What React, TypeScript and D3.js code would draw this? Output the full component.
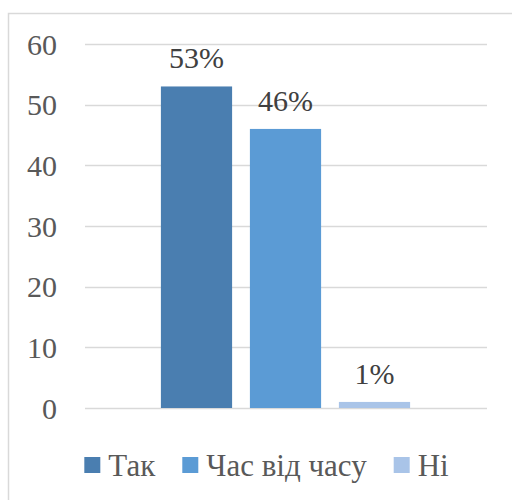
import React, { useMemo } from "react";
import * as d3 from "d3";

const seriesNames = ["Так", "Час від часу", "Ні"];
const seriesValues = [53, 46, 1];
const valueLabels = ["53%", "46%", "1%"];
const seriesColors = ["#4A7EB0", "#5B9BD5", "#A9C4E8"];
const yTicks = [0, 10, 20, 30, 40, 50, 60];

const FONT = "Liberation Serif";
const LEGEND_SIZE = 31;

export default function App() {
  const y = d3.scaleLinear().domain([0, 60]).range([408, 44]);
  const x = d3.scaleBand<string>().domain(seriesNames).range([152, 419]).paddingInner(0.2).paddingOuter(0.1);

  const legendX = useMemo(() => {
    const canvas = document.createElement("canvas");
    const ctx = canvas.getContext("2d")!;
    ctx.font = `${LEGEND_SIZE}px "${FONT}"`;
    const widths = seriesNames.map(n => 24 + ctx.measureText(n).width);
    const gap = 27;
    const total = d3.sum(widths) + gap * (widths.length - 1);
    let cx = 266.5 - total / 2;
    return widths.map(w => {
      const p = cx;
      cx += w + gap;
      return p;
    });
  }, []);

  return (
    <svg width={512} height={500} style={{ position: "absolute", left: 0, top: 0, display: "block" }}>
      <rect x={8.5} y={13.5} width={540} height={520} fill="#fff" stroke="#d9d9d9" strokeWidth={1.5} />
      {yTicks.map(t => (
        <line key={"g" + t} x1={85} x2={487} y1={Math.round(y(t)) + 0.5} y2={Math.round(y(t)) + 0.5}
          stroke="#d9d9d9" strokeWidth={1.5} />
      ))}
      {yTicks.map(t => (
        <text key={"t" + t} x={57} y={y(t) + 10.5} textAnchor="end"
          style={{ fontFamily: FONT, fontSize: 30 }} fill="#595959">{t}</text>
      ))}
      {seriesNames.map((n, i) => (
        <rect key={"b" + n} x={x(n)} width={x.bandwidth()} y={y(seriesValues[i])}
          height={y(0) - y(seriesValues[i])} fill={seriesColors[i]} />
      ))}
      {seriesNames.map((n, i) => (
        <text key={"l" + n} x={x(n)! + x.bandwidth() / 2} y={y(seriesValues[i]) - 18} textAnchor="middle"
          style={{ fontFamily: FONT, fontSize: 30 }} fill="#404040">{valueLabels[i]}</text>
      ))}
      {seriesNames.map((n, i) => (
        <g key={"lg" + n} transform={`translate(${legendX[i]},476)`}>
          <rect x={0} y={-19} width={16} height={16} fill={seriesColors[i]} />
          <text x={24} y={0} style={{ fontFamily: FONT, fontSize: LEGEND_SIZE }} fill="#595959">{n}</text>
        </g>
      ))}
    </svg>
  );
}
